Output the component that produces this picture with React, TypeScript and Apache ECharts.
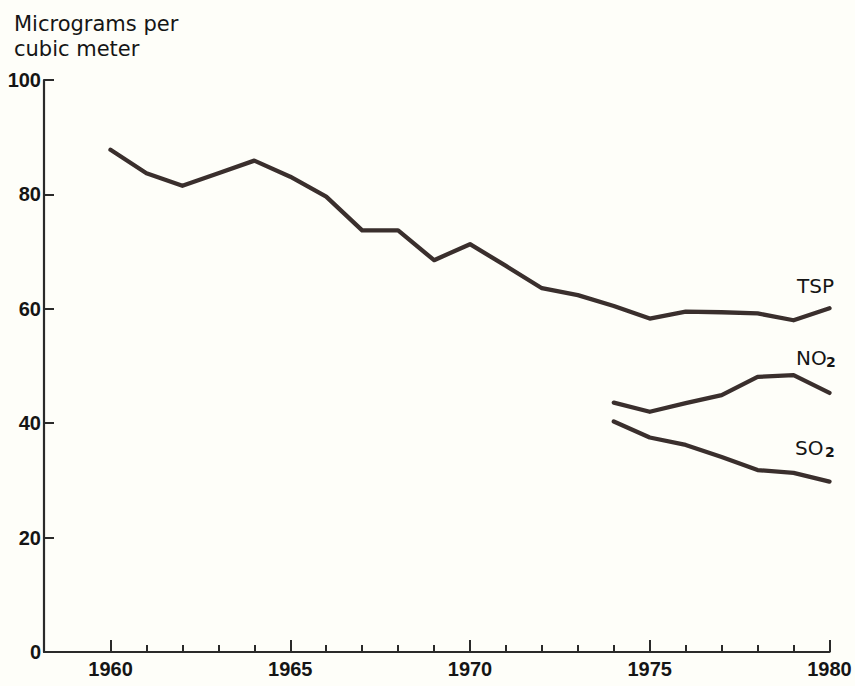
import React, { useEffect, useRef } from "react";
import * as echarts from "echarts";

const years = [1960, 1961, 1962, 1963, 1964, 1965, 1966, 1967, 1968, 1969, 1970, 1971, 1972, 1973, 1974, 1975, 1976, 1977, 1978, 1979, 1980];
const tsp = [87.8, 83.7, 81.5, 83.7, 85.9, 83.1, 79.6, 73.7, 73.7, 68.5, 71.3, 67.5, 63.6, 62.4, 60.5, 58.3, 59.5, 59.4, 59.2, 58.0, 60.1];
const gasYears = [1974, 1975, 1976, 1977, 1978, 1979, 1980];
const no2 = [43.6, 42.0, 43.5, 44.9, 48.1, 48.4, 45.3];
const so2 = [40.3, 37.5, 36.2, 34.1, 31.8, 31.3, 29.8];
const xLabelYears = [1960, 1965, 1970, 1975, 1980];
const yTicks = [0, 20, 40, 60, 80, 100];
const titleText = "Micrograms per\ncubic meter";

const LINE = "#3a2f2d";
const INK = "#151515";

export default function App() {
  const ref = useRef<HTMLDivElement>(null);
  useEffect(() => {
    if (!ref.current) return;
    const chart = echarts.init(ref.current, null, { renderer: "svg" });
    const pair = (xs: number[], ys: number[]) => xs.map((x, i) => [x, ys[i]]);
    const lineSeries = (name: string, data: number[][]) => ({
      name,
      type: "line",
      data,
      symbol: "none",
      smooth: false,
      lineStyle: { color: LINE, width: 4.3, join: "round", cap: "round" },
      silent: true,
    });
    const labelFont = "DejaVu Sans";
    chart.setOption({
      animation: false,
      backgroundColor: "#fefef9",
      title: {
        text: titleText,
        left: 9,
        top: 6,
        textStyle: {
          fontFamily: labelFont,
          fontSize: 21,
          fontWeight: "normal",
          color: INK,
          lineHeight: 25,
        },
      },
      grid: { left: 44, right: 25.5, top: 80, bottom: 34 },
      xAxis: [
        {
          type: "value",
          min: 1958.15,
          max: 1980,
          axisLine: { show: true, lineStyle: { color: "#2a2a2a", width: 2.2 } },
          axisTick: {
            show: true,
            inside: true,
            length: 7,
            customValues: years,
            lineStyle: { color: "#2a2a2a", width: 2 },
          },
          axisLabel: {
            show: true,
            customValues: xLabelYears,
            formatter: (v: number) => String(v),
            margin: 7,
            fontFamily: "Liberation Sans",
            fontWeight: "bold",
            fontSize: 20,
            color: INK,
          },
          splitLine: { show: false },
        },
        {
          type: "value",
          min: 1958.15,
          max: 1980,
          position: "bottom",
          axisLine: { show: false },
          axisTick: {
            show: true,
            inside: true,
            length: 12,
            customValues: xLabelYears,
            lineStyle: { color: "#2a2a2a", width: 2 },
          },
          axisLabel: { show: false },
          splitLine: { show: false },
        },
      ],
      yAxis: {
        type: "value",
        min: 0,
        max: 100,
        interval: 20,
        axisLine: { show: true, lineStyle: { color: "#2a2a2a", width: 2.2 } },
        axisTick: {
          show: true,
          inside: true,
          length: 10,
          customValues: yTicks,
          lineStyle: { color: "#2a2a2a", width: 2 },
        },
        axisLabel: {
          margin: 3,
          fontFamily: "Liberation Sans",
          fontWeight: "bold",
          fontSize: 20,
          color: INK,
        },
        splitLine: { show: false },
      },
      series: [
        lineSeries("TSP", pair(years, tsp)),
        lineSeries("NO2", pair(gasYears, no2)),
        lineSeries("SO2", pair(gasYears, so2)),
      ],
      graphic: [
        {
          type: "text",
          x: 797,
          y: 286,
          style: { text: "TSP", fontFamily: labelFont, fontSize: 20, fill: INK, verticalAlign: "middle" },
        },
        {
          type: "text",
          x: 796,
          y: 358,
          style: { text: "NO", fontFamily: labelFont, fontSize: 20, fill: INK, verticalAlign: "middle" },
        },
        {
          type: "text",
          x: 826,
          y: 362,
          style: { text: "2", fontFamily: labelFont, fontSize: 14, fontWeight: "bold", fill: INK, verticalAlign: "middle" },
        },
        {
          type: "text",
          x: 795,
          y: 448,
          style: { text: "SO", fontFamily: labelFont, fontSize: 20, fill: INK, verticalAlign: "middle" },
        },
        {
          type: "text",
          x: 825,
          y: 452,
          style: { text: "2", fontFamily: labelFont, fontSize: 14, fontWeight: "bold", fill: INK, verticalAlign: "middle" },
        },
      ],
    });
    return () => chart.dispose();
  }, []);
  return (
    <div
      ref={ref}
      style={{ position: "fixed", left: 0, top: 0, width: 855, height: 686 }}
    />
  );
}
